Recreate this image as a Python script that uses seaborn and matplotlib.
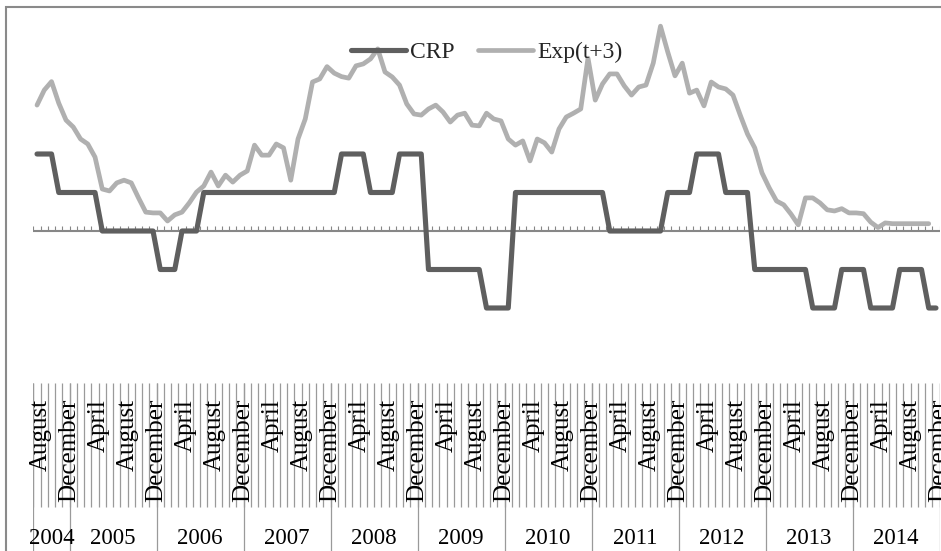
import numpy as np
import pandas as pd
import matplotlib
matplotlib.use("Agg")
import matplotlib.pyplot as plt
from matplotlib.patches import Rectangle
import seaborn as sns

# ---------------- data ----------------
n_months = 125  # August 2004 .. December 2014
crp = [2, 2, 2,
       1, 1, 1, 1, 1, 1,
       0, 0, 0, 0, 0, 0, 0, 0,
       -1, -1, -1,
       0, 0, 0,
       1, 1, 1, 1, 1, 1, 1, 1, 1, 1, 1, 1, 1, 1, 1, 1, 1, 1, 1,
       2, 2, 2, 2,
       1, 1, 1, 1,
       2, 2, 2, 2,
       -1, -1, -1, -1, -1, -1, -1, -1,
       -2, -2, -2, -2,
       1, 1, 1, 1, 1, 1, 1, 1, 1, 1, 1, 1, 1,
       0, 0, 0, 0, 0, 0, 0, 0,
       1, 1, 1, 1,
       2, 2, 2, 2,
       1, 1, 1, 1,
       -1, -1, -1, -1, -1, -1, -1, -1,
       -2, -2, -2, -2,
       -1, -1, -1, -1,
       -2, -2, -2, -2,
       -1, -1, -1, -1,
       -2, -2]

exp_t3 = [3.27, 3.66, 3.88, 3.32, 2.88, 2.70, 2.39, 2.26, 1.92, 1.09,
          1.04, 1.25, 1.32, 1.25, 0.86, 0.49, 0.47, 0.47, 0.26, 0.42,
          0.49, 0.73, 1.01, 1.17, 1.53, 1.17, 1.45, 1.27, 1.45, 1.56,
          2.23, 1.97, 1.97, 2.26, 2.16, 1.32, 2.39, 2.91, 3.87, 3.95,
          4.27, 4.10, 4.01, 3.97, 4.29, 4.34, 4.47, 4.73, 4.13, 4.00,
          3.79, 3.30, 3.04, 3.01, 3.17, 3.27, 3.09, 2.83, 3.01, 3.06,
          2.75, 2.73, 3.06, 2.91, 2.86, 2.39, 2.23, 2.34, 1.82, 2.39,
          2.29, 2.05, 2.65, 2.96, 3.06, 3.17, 4.49, 3.40, 3.82, 4.08,
          4.08, 3.77, 3.53, 3.74, 3.79, 4.36, 5.32, 4.65, 4.03, 4.36,
          3.58, 3.66, 3.25, 3.87, 3.74, 3.69, 3.53, 3.01, 2.52, 2.16,
          1.51, 1.12, 0.78, 0.68, 0.44, 0.16, 0.86, 0.86, 0.73, 0.55,
          0.52, 0.58, 0.47, 0.47, 0.45, 0.23, 0.09, 0.21, 0.19, 0.19,
          0.19, 0.19, 0.19, 0.19, np.nan]

month_tick_labels = ["August", "December", "April"] * 10 + ["August", "December"]
year_labels = ["2004", "2005", "2006", "2007", "2008", "2009",
               "2010", "2011", "2012", "2013", "2014"]
months_per_year = [5, 12, 12, 12, 12, 12, 12, 12, 12, 12, 12]

# ---------------- figure ----------------
sns.set_style("white")
plt.rcParams["font.family"] = ["Liberation Serif", "DejaVu Serif"]

W, H = 941, 551
fig = plt.figure(figsize=(W / 100, H / 100), dpi=100)

def fx(px):
    return px / W

def fy(py):
    return 1 - py / H

x_left, x_right = 33.4, 939.6
y_top, y_bot = 8, 383
ax = fig.add_axes([fx(x_left), fy(y_bot), fx(x_right - x_left), (y_bot - y_top) / H])
ax.set_xlim(-0.5, n_months - 0.5)
zero_px, unit_px = 231, 38.5
ax.set_ylim(-(y_bot - zero_px) / unit_px, (zero_px - y_top) / unit_px)
for s in ax.spines.values():
    s.set_visible(False)
ax.set_xticks([])
ax.set_yticks([])
ax.patch.set_alpha(0)

idx = np.arange(n_months)
axis_col = "#878787"
# horizontal axis at 0 with small inward ticks at category boundaries
bounds = np.arange(-0.5, n_months, 1.0)
ax.axhline(0, color=axis_col, lw=1.5, zorder=1)
ax.vlines(bounds, 0, 5 / unit_px, color=axis_col, lw=0.8, zorder=1)

df = pd.DataFrame({"month": idx, "CRP": crp, "Exp(t+3)": exp_t3})
sns.lineplot(data=df, x="month", y="CRP", ax=ax, color="#5f5f5f", lw=3.7,
             label="CRP", zorder=3, solid_joinstyle="round", solid_capstyle="round")
sns.lineplot(data=df.dropna(), x="month", y="Exp(t+3)", ax=ax, color="#b0b0b0", lw=3.4,
             label="Exp(t+3)", zorder=4, solid_joinstyle="round", solid_capstyle="round")
ax.set_xlabel("")
ax.set_ylabel("")

leg = ax.legend(loc="center", bbox_to_anchor=(0.5, (y_bot - 52.5) / (y_bot - y_top)),
                ncol=2, frameon=False, fontsize=17, handlelength=2.35,
                handletextpad=0.15, columnspacing=1.0, borderaxespad=0)
leg.set_zorder(10)

# ---------------- category label area ----------------
ax2 = fig.add_axes([fx(x_left), 0, fx(x_right - x_left), fy(y_bot)])
ax2.set_xlim(-0.5, n_months - 0.5)
ax2.set_ylim(H, y_bot)
ax2.axis("off")
ax2.patch.set_alpha(0)

grid_col = "#9a9a9a"
ax2.vlines(bounds, y_bot, 507, color=grid_col, lw=0.9)
year_bounds = np.concatenate([[-0.5], np.cumsum(months_per_year) - 0.5])
ax2.vlines(year_bounds, y_bot, H + 5, color=grid_col, lw=0.9)

for k, lab in enumerate(month_tick_labels):
    ax2.text(4 * k + 0.15, 399, lab, rotation=90, rotation_mode="anchor",
             ha="right", va="center_baseline", fontsize=18, color="black", clip_on=False)

for k, yl in enumerate(year_labels):
    c = (year_bounds[k] + year_bounds[k + 1]) / 2
    ax2.text(c, 539, yl, ha="center", va="center", fontsize=16.5, color="black")

# chart-area border (left and top visible)
fig.patches.append(Rectangle((fx(6), -0.1), 1.2, fy(7) + 0.1, transform=fig.transFigure,
                             fill=False, edgecolor="#8a8a8a", lw=1.5, zorder=0))

fig.savefig("out.png", dpi=100)
